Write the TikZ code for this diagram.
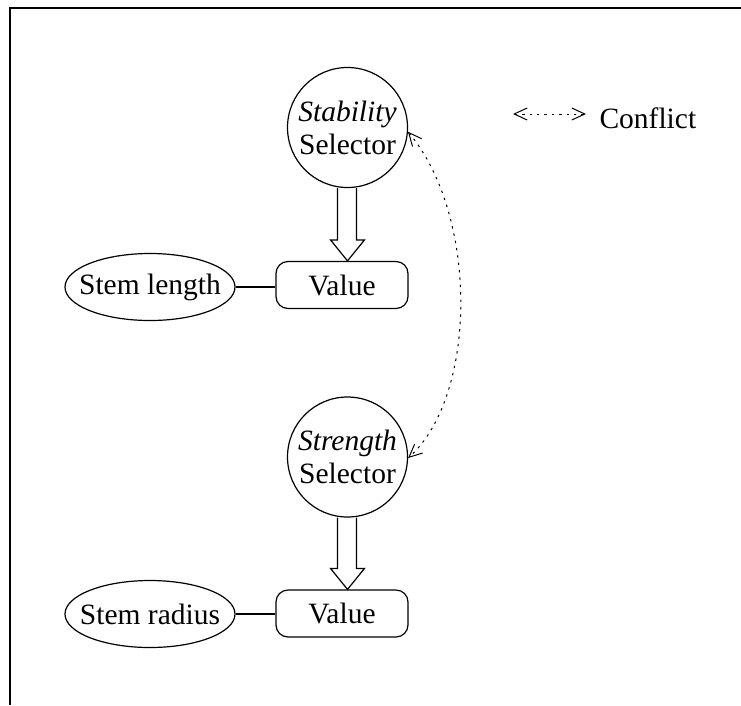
\documentclass[tikz,border=0pt]{standalone}
\usepackage{fontspec}
\setmainfont{Liberation Serif}
\usetikzlibrary{arrows.meta,calc,shapes.geometric}
\begin{document}
\begin{tikzpicture}[x=1pt,y=-1pt,
  every node/.style={font=\fontsize{29.5}{33}\selectfont},
  selector/.style={draw,circle,line width=1.2pt,minimum size=120pt,inner sep=0pt,align=center},
  valuebox/.style={draw,rounded corners=12pt,line width=1.2pt,minimum width=132pt,minimum height=47pt,inner sep=0pt},
  param/.style={draw,ellipse,line width=1.2pt,minimum width=170pt,minimum height=67pt,inner sep=-20pt},
  link/.style={line width=1.1pt},
  bigarrow/.style={line width=1.2pt,line join=miter},
  conflict/.style={line width=1pt,dash pattern=on 2.4pt off 5pt,
    {Straight Barb[length=13pt,width=12pt,line width=1pt]}-{Straight Barb[length=13pt,width=12pt,line width=1pt]}},
  frameline/.style={line width=2.6pt}
]
\useasboundingbox (0,0) rectangle (741,705);
\draw[frameline] (10,705) -- (10,8) -- (741,8);

% upper group
\node[selector] (stab) at (347.5,127.5) {\textit{Stability}\\Selector};
\node[valuebox] (val1) at (342,285) {Value\hspace{14pt}};
\node[param] (slen) at (150,287) {Stem length};

% lower group
\node[selector] (stren) at (347.5,457) {\textit{Strength}\\Selector};
\node[valuebox] (val2) at (342,613.5) {Value\hspace{14pt}};
\node[param] (srad) at (150,614) {Stem radius};

% parameter links
\draw[link] (slen.east) -- (slen.east -| val1.west);
\draw[link] (srad.east) -- (srad.east -| val2.west);

% hollow selection arrows
\foreach \s/\v in {stab/val1,stren/val2}{
  \coordinate (top) at (\s.south);
  \coordinate (tip) at (\s.south |- \v.north);
  \draw[bigarrow] ($(top)+(-10,0)$) -- ($(tip)+(-10,-21)$) -- ($(tip)+(-17,-21)$)
    -- (tip) -- ($(tip)+(17,-21)$) -- ($(tip)+(9,-21)$) -- ($(top)+(9,0)$);
}

% conflict between the selectors
\draw[conflict] (stab.-4) .. controls (478,215) and (478,395) .. (stren.-1);

% legend
\coordinate (lgA) at (513,114);
\coordinate (lgB) at (586,114);
\draw[conflict] (lgA) -- (lgB);
\node[anchor=west] (lgtext) at (596,118) {Conflict};
\end{tikzpicture}
\end{document}
